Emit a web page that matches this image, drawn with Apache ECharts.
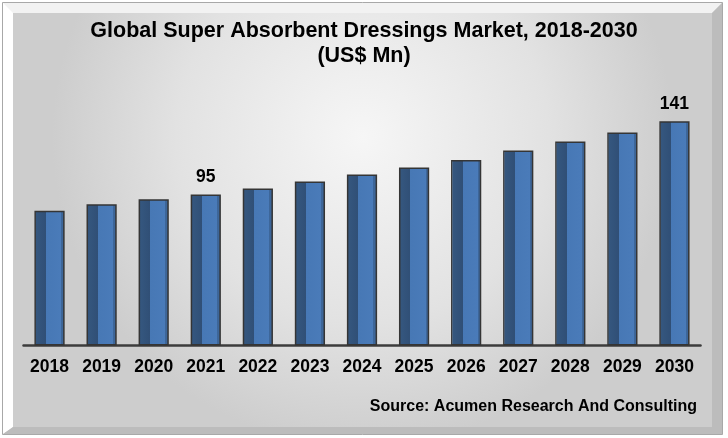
<!DOCTYPE html>
<html>
<head>
<meta charset="utf-8">
<script src="https://cdn.jsdelivr.net/npm/echarts@6/dist/echarts.min.js"></script>
<style>
    html, body { margin: 0; padding: 0; background: #ffffff; }
    #chart { width: 728px; height: 438px; }
</style>
</head>
<body>
<div id="chart"></div>
<script>
    // years on the x axis
    var years = ['2018', '2019', '2020', '2021', '2022', '2023', '2024',
        '2025', '2026', '2027', '2028', '2029', '2030'];
    // market size, US$ Mn
    var marketSize = [84.8, 88.9, 92.0, 95.0, 98.7, 103.1, 107.5,
        111.9, 116.7, 122.6, 128.3, 133.9, 141.0];
    // only these years carry a value label
    var labelledYears = ['2021', '2030'];

    var chart = echarts.init(document.getElementById('chart'), null, {renderer: 'canvas'});

    var barFill = new echarts.graphic.LinearGradient(0, 0, 1, 0, [
        {offset: 0, color: '#6f9fd8'},
        {offset: 0.05, color: '#6f9fd8'},
        {offset: 0.05, color: '#35577f'},
        {offset: 0.38, color: '#304f76'},
        {offset: 0.38, color: '#4778b5'},
        {offset: 0.88, color: '#4a7bb9'},
        {offset: 0.88, color: '#3d6699'},
        {offset: 1, color: '#3d6699'}
    ]);

    var seriesData = marketSize.map(function (v, i) {
        var item = {value: v};
        if (labelledYears.indexOf(years[i]) !== -1) {
            item.label = {
                show: true,
                position: 'top',
                distance: 8,
                formatter: function (p) { return Math.round(p.value); },
                color: '#000',
                fontFamily: 'Liberation Sans, Arial, sans-serif',
                fontWeight: 'bold',
                fontSize: 17.5
            };
        }
        return item;
    });

    var frame = [
        // outer frame
        {
            type: 'rect', z: -10, silent: true,
            shape: {x: 2.5, y: 2.5, width: 720, height: 432},
            style: {fill: '#d4d4d4', stroke: '#a8a8a8', lineWidth: 1}
        },
        // light bevel on the top
        {
            type: 'polygon', z: -9, silent: true,
            shape: {points: [[3, 3], [722, 3], [712, 13], [13, 13], [13, 427], [3, 434]]},
            style: {fill: '#f2f2f2'}
        },
        // white bevel on the left
        {
            type: 'polygon', z: -9, silent: true,
            shape: {points: [[3, 3], [13, 13], [13, 427], [3, 434]]},
            style: {fill: '#ffffff'}
        },
        // darker bevel bottom and right
        {
            type: 'polygon', z: -9, silent: true,
            shape: {points: [[722, 3], [722, 434], [3, 434], [13, 427], [712, 427], [712, 13]]},
            style: {fill: '#bcbcbc'}
        },
        // inner panel
        {
            type: 'rect', z: -8, silent: true,
            shape: {x: 13, y: 13, width: 699, height: 414},
            style: {
                fill: new echarts.graphic.RadialGradient(0.5, 0.3, 0.75, [
                    {offset: 0, color: '#f6f6f6'},
                    {offset: 0.6, color: '#e2e2e2'},
                    {offset: 1, color: '#cdcdcd'}
                ])
            }
        },
        // source line at the bottom right
        {
            type: 'text', silent: true, z: 5,
            right: 31, top: 399,
            style: {
                text: 'Source: Acumen Research And Consulting',
                fill: '#000',
                font: 'bold 16px "Liberation Sans", Arial, sans-serif'
            }
        }
    ];

    var option = {
        animation: false,
        backgroundColor: '#ffffff',
        graphic: frame,
        title: {
            text: 'Global Super Absorbent Dressings Market, 2018-2030\n(US$ Mn)',
            left: 'center',
            top: 14,
            textStyle: {
                color: '#000',
                fontFamily: 'Liberation Sans, Arial, sans-serif',
                fontWeight: 'bold',
                fontSize: 21.5,
                lineHeight: 25
            }
        },
        grid: {
            left: 23.5,
            right: 27.5,
            top: 107,
            bottom: 92.5,
            containLabel: false
        },
        xAxis: {
            type: 'category',
            data: years,
            axisLine: {lineStyle: {color: '#3c3c3c', width: 2.5}},
            axisTick: {show: false},
            axisLabel: {
                margin: 13,
                color: '#000',
                fontFamily: 'Liberation Sans, Arial, sans-serif',
                fontWeight: 'bold',
                fontSize: 17.5
            }
        },
        yAxis: {
            type: 'value',
            min: 0,
            max: 150,
            show: false,
            splitLine: {show: false}
        },
        series: [{
            type: 'bar',
            data: seriesData,
            barWidth: '58%',
            itemStyle: {
                color: barFill,
                borderColor: '#353535',
                borderWidth: 1.5
            }
        }]
    };

    chart.setOption(option);
</script>
</body>
</html>
